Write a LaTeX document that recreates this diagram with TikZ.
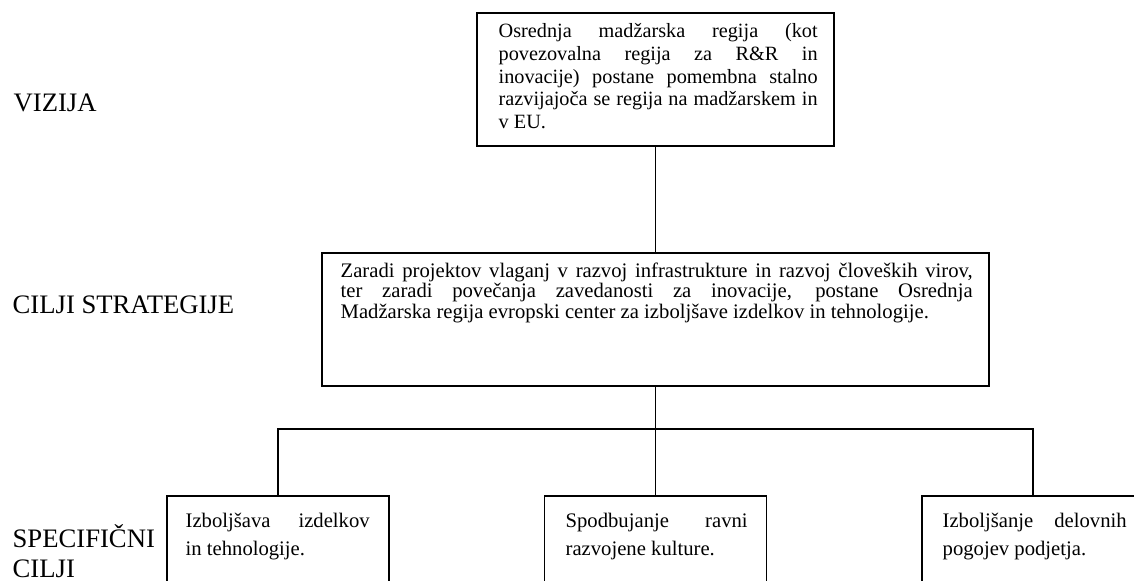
\documentclass[tikz,border=0pt]{standalone}
\usepackage{fontspec}
\setmainfont{Liberation Serif}
\newcommand{\justpar}[2]{\parbox[t]{#1}{\tolerance=10000\hbadness=10000\relax #2}}
\tikzset{every picture/.style={line width=1pt}}
\tikzset{
  orgbox/.style={draw, inner sep=0pt},
  boxtext/.style={anchor=base west, inner sep=0pt, font=\fontsize{15.2}{16.9}\selectfont},
  leveltext/.style={anchor=base west, inner sep=0pt, font=\fontsize{20}{22.5}\selectfont}
}

\begin{document}
\begin{tikzpicture}[x=0.75pt,y=0.75pt,yscale=-1,xscale=1]
\useasboundingbox (0,0) rectangle (1134,581);
\clip (0,0) rectangle (1134,581);

%Shape: Rectangle [vision]
\node [orgbox, minimum width=267.75pt, minimum height=99.75pt] (vision) at (655.5,79.5) {};
%Shape: Rectangle [strategy]
\node [orgbox, minimum width=500.25pt, minimum height=99.75pt] (strategy) at (655.5,319.5) {};
%Shape: Rectangle [goal1..goal3]
\node [orgbox, minimum width=166.5pt, minimum height=115.5pt] (goal1) at (278,573) {};
\node [orgbox, minimum width=166.5pt, minimum height=115.5pt] (goal2) at (655.5,573) {};
\node [orgbox, minimum width=166.5pt, minimum height=115.5pt] (goal3) at (1033,573) {};

%Straight Lines
\coordinate (bus) at (655.5,429);
\draw (vision.south) -- (strategy.north);
\draw (strategy.south) -- (bus);
\draw (goal1.north) |- (bus) -| (goal3.north);
\draw (bus) -- (goal2.north);

% Text Node
\node [leveltext] (lvision) at (13,112) {VIZIJA};
% Text Node
\node [leveltext] (lstrategy) at (12,313) {CILJI STRATEGIJE};
% Text Node
\node [leveltext] (lgoals) at (12,547) {\parbox[t]{150pt}{\raggedright SPECIFIČNI\\CILJI}};

% Text Node
\node [boxtext] (tvision) at (498,38) {\justpar{239.25pt}{Osrednja madžarska regija (kot\linebreak povezovalna regija za R\&R in\linebreak inovacije) postane pomembna stalno\linebreak razvijajoča se regija na madžarskem in\linebreak v EU.}};
% Text Node
\node [boxtext, font=\fontsize{15.5}{15.5}\selectfont] (tstrategy) at (340,277) {\justpar{474pt}{Zaradi projektov vlaganj v razvoj infrastrukture in razvoj človeških virov,\linebreak ter zaradi povečanja zavedanosti za inovacije, postane Osrednja\linebreak Madžarska regija evropski center za izboljšave izdelkov in tehnologije.}};
% Text Node
\node [boxtext, font=\fontsize{15.5}{21}\selectfont] (tgoal1) at (185,527) {\justpar{138pt}{Izboljšava izdelkov\linebreak in tehnologije.}};
% Text Node
\node [boxtext, font=\fontsize{15.5}{21}\selectfont] (tgoal2) at (565,527) {\justpar{136.5pt}{Spodbujanje ravni\linebreak razvojene kulture.}};
% Text Node
\node [boxtext, font=\fontsize{15.5}{21}\selectfont] (tgoal3) at (942,527) {\justpar{138pt}{Izboljšanje delovnih\linebreak pogojev podjetja.}};

\end{tikzpicture}
\end{document}
